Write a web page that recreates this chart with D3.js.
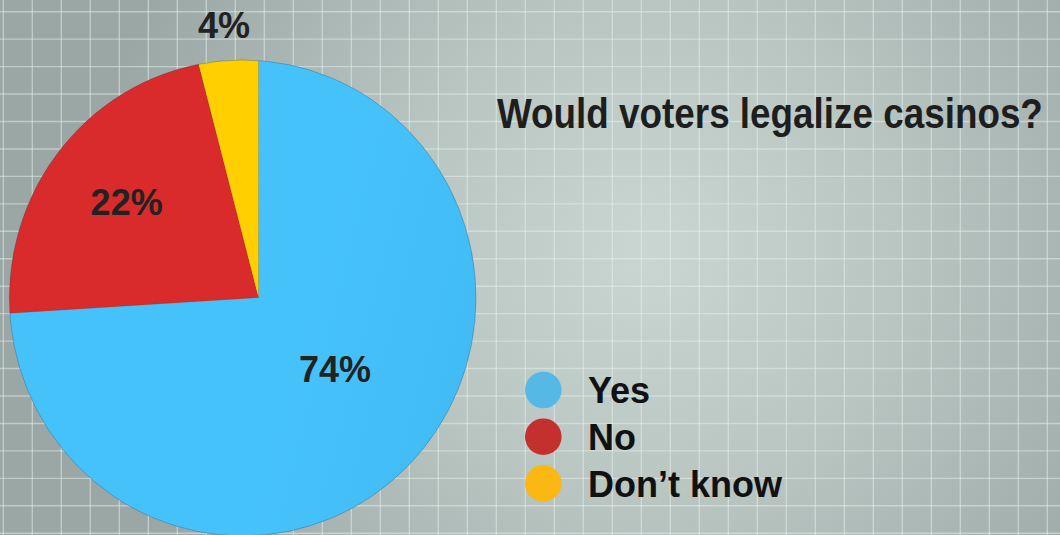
<!DOCTYPE html>
<html>
<head>
<meta charset="utf-8">
<script src="https://cdn.jsdelivr.net/npm/d3@7"></script>
<style>
  html, body { margin: 0; padding: 0; background: #aab6b3; }
  svg { display: block; }
</style>
</head>
<body>
<svg id="chart" width="1060" height="535"></svg>
<script>
// ---- data ----
const categories = ["Yes", "No", "Don\u2019t know"];
const values = [74, 22, 4];
const valueLabels = ["74%", "22%", "4%"];
const title = "Would voters legalize casinos?";

// ---- styles / layout ----
const W = 1060, H = 535;
const sliceColors = {
  "Yes": ["#46c2fb", "#3aaee6"],
  "No": ["#d92b2c", "#c52e2e"],
  "Don\u2019t know": ["#ffcf00", "#fbc400"]
};
const legendColors = ["#55b8e6", "#c4302e", "#fbb712"];
const labelRadius = { "Yes": 105, "No": 163, "Don\u2019t know": 275 };

const svg = d3.select("#chart");
const defs = svg.append("defs");

// background radial gradient
const bg = defs.append("radialGradient").attr("id", "bg")
  .attr("gradientUnits", "userSpaceOnUse")
  .attr("cx", 650).attr("cy", 250).attr("r", 560);
bg.append("stop").attr("offset", 0).attr("stop-color", "#c9d6d1");
bg.append("stop").attr("offset", 0.45).attr("stop-color", "#b8c5c1");
bg.append("stop").attr("offset", 1).attr("stop-color", "#9ba7a5");
svg.append("rect").attr("width", W).attr("height", H).attr("fill", "url(#bg)");

// grid
const gx = d3.range(3.3, W, 29);
const gy = d3.range(11.7, H, 27.45);
const grid = svg.append("g").attr("stroke", "rgba(232,240,237,0.5)").attr("stroke-width", 1.4);
grid.selectAll("line.v").data(gx).join("line").attr("class", "v")
  .attr("x1", d => d).attr("x2", d => d).attr("y1", 0).attr("y2", H);
grid.selectAll("line.h").data(gy).join("line").attr("class", "h")
  .attr("y1", d => d).attr("y2", d => d).attr("x1", 0).attr("x2", W);

// pie (perspective-like: apex off the ellipse centre)
const apex = [258.5, 297.5];
const ell = { cx: 242.7, cy: 298, rx: 233.3, ry: 238 };

defs.append("clipPath").attr("id", "pieClip")
  .append("ellipse").attr("cx", ell.cx).attr("cy", ell.cy).attr("rx", ell.rx).attr("ry", ell.ry);

categories.forEach((c, i) => {
  const g = defs.append("linearGradient").attr("id", "grad" + i)
    .attr("gradientUnits", "userSpaceOnUse")
    .attr("x1", ell.cx - ell.rx).attr("y1", 200).attr("x2", ell.cx + ell.rx).attr("y2", 320);
  g.append("stop").attr("offset", 0).attr("stop-color", sliceColors[c][0]);
  g.append("stop").attr("offset", 1).attr("stop-color", sliceColors[c][1]);
});

const data = categories.map((c, i) => ({ cat: c, value: values[i], label: valueLabels[i], idx: i }));
const pie = d3.pie().sort(null).value(d => d.value).startAngle(0).endAngle(2 * Math.PI);
const arcs = pie(data);
const arc = d3.arc().innerRadius(0).outerRadius(420);

const pg = svg.append("g").attr("clip-path", "url(#pieClip)");
pg.append("g").attr("transform", `translate(${apex[0]},${apex[1]})`)
  .selectAll("path").data(arcs).join("path")
  .attr("d", arc)
  .attr("fill", d => `url(#grad${d.data.idx})`)
  .attr("stroke", "rgba(0,0,0,0.12)")
  .attr("stroke-width", 0.8);

svg.append("ellipse").attr("cx", ell.cx).attr("cy", ell.cy).attr("rx", ell.rx).attr("ry", ell.ry)
  .attr("fill", "none").attr("stroke", "rgba(30,70,100,0.3)").attr("stroke-width", 1);

// value labels
svg.append("g").attr("transform", `translate(${apex[0]},${apex[1]})`)
  .selectAll("text").data(arcs).join("text")
  .attr("x", d => Math.sin((d.startAngle + d.endAngle) / 2) * labelRadius[d.data.cat])
  .attr("y", d => -Math.cos((d.startAngle + d.endAngle) / 2) * labelRadius[d.data.cat] + 13)
  .attr("text-anchor", "middle")
  .attr("font-family", "'Liberation Sans', Arial, sans-serif")
  .attr("font-weight", "bold")
  .attr("font-size", 36)
  .attr("fill", "#222")
  .text(d => d.data.label);

// title (condensed via horizontal scale to fit the reference width)
const titleG = svg.append("g").attr("transform", "translate(497,128)");
const titleText = titleG.append("text")
  .attr("x", 0).attr("y", 0)
  .attr("font-family", "'Liberation Sans Narrow', 'Arial Narrow', 'Liberation Sans', sans-serif")
  .attr("font-weight", "bold")
  .attr("font-size", 43)
  .attr("fill", "#1e1e1e")
  .text(title);
const natural = titleText.node().getComputedTextLength() || 546;
titleText.attr("transform", `scale(${546 / natural},1)`);

// legend
const legend = svg.append("g");
const ly = d3.scalePoint().domain(categories).range([390, 483.4]);
legend.selectAll("circle").data(categories).join("circle")
  .attr("cx", 543.3).attr("cy", d => ly(d)).attr("r", 18.3)
  .attr("fill", (d, i) => legendColors[i]);
legend.selectAll("text").data(categories).join("text")
  .attr("x", 588).attr("y", d => ly(d) + 13.3)
  .attr("font-family", "'Liberation Sans', Arial, sans-serif")
  .attr("font-weight", "bold")
  .attr("font-size", 36)
  .attr("fill", "#111")
  .text(d => d);
</script>
</body>
</html>
